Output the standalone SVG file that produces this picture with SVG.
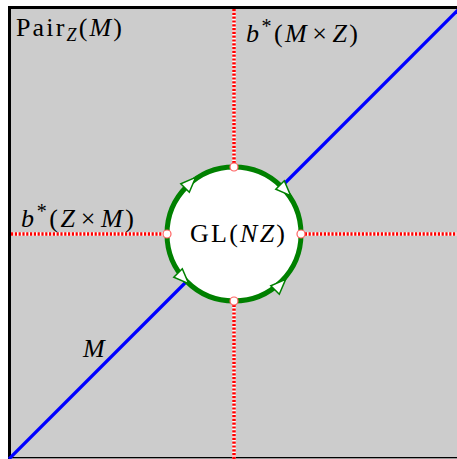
<svg xmlns="http://www.w3.org/2000/svg" width="457" height="459" viewBox="0 0 457 459">
<style>
.txt{font-family:"Liberation Serif","DejaVu Serif",serif;font-size:26px;fill:#000}
.it{font-style:italic}
.blue{stroke:#0000ff;stroke-width:3.2;fill:none}
.redbase{stroke:#ffffff;stroke-width:3.5;fill:none}
.red{stroke:#ff0000;stroke-width:3.5;stroke-dasharray:2.2 1.6;fill:none}
.port{fill:#ffffff;stroke:#ff6060;stroke-width:1.2}
.arr{fill:#ffffff;stroke:#008000;stroke-width:1.5;stroke-linejoin:miter}
</style>
<defs>
<path id="tri" d="M8,0 L-7,-6 L-7,6 Z"/>
</defs>
<rect x="0" y="0" width="457" height="459" fill="#ffffff"/>
<rect x="9.5" y="7.5" width="460" height="451" fill="#cccccc" stroke="#000000" stroke-width="3"/>
<line x1="11" y1="458.5" x2="457" y2="458.5" stroke="#999999" stroke-width="1"/>
<g id="connectors">
<line class="blue" x1="9" y1="459" x2="187" y2="281"/>
<line class="blue" x1="281" y1="187" x2="458" y2="10"/>
<line class="redbase" x1="234" y1="9" x2="234" y2="167"/>
<line class="red" x1="234" y1="9" x2="234" y2="167"/>
<line class="redbase" x1="234" y1="301" x2="234" y2="459"/>
<line class="red" x1="234" y1="301" x2="234" y2="459"/>
<line class="redbase" x1="11" y1="234" x2="167" y2="234"/>
<line class="red" x1="11" y1="234" x2="167" y2="234"/>
<line class="redbase" x1="301" y1="234" x2="457" y2="234"/>
<line class="red" x1="301" y1="234" x2="457" y2="234"/>
</g>
<g id="GL">
<circle cx="234" cy="234" r="67" fill="#ffffff" stroke="#008000" stroke-width="5"/>
<use href="#tri" class="arr" transform="translate(190,183) rotate(-45)"/>
<use href="#tri" class="arr" transform="translate(285,190) rotate(45)"/>
<use href="#tri" class="arr" transform="translate(183,278) rotate(45)"/>
<use href="#tri" class="arr" transform="translate(280,285) rotate(-45)"/>
<circle class="port" cx="234" cy="167" r="4"/>
<circle class="port" cx="234" cy="301" r="4"/>
<circle class="port" cx="167" cy="234" r="4"/>
<circle class="port" cx="301" cy="234" r="4"/>
<text class="txt" x="190" y="242" textLength="95" lengthAdjust="spacing">GL(<tspan class="it">N</tspan><tspan class="it">Z</tspan>)</text>
</g>
<g id="labels">
<text class="txt" x="16" y="36" textLength="106" lengthAdjust="spacing">Pair<tspan class="it" font-size="18" dy="5">Z</tspan><tspan dy="-5">(</tspan><tspan class="it">M</tspan>)</text>
<text class="txt" x="246" y="42" textLength="112" lengthAdjust="spacing"><tspan class="it">b</tspan><tspan font-size="20" dy="-9">*</tspan><tspan dy="9">(</tspan><tspan class="it">M</tspan><tspan dx="3">×</tspan><tspan class="it" dx="3">Z</tspan>)</text>
<text class="txt" x="21" y="227" textLength="113" lengthAdjust="spacing"><tspan class="it">b</tspan><tspan font-size="20" dy="-9">*</tspan><tspan dy="9">(</tspan><tspan class="it">Z</tspan><tspan dx="3">×</tspan><tspan class="it" dx="3">M</tspan>)</text>
<text class="txt it" x="83" y="357">M</text>
</g>
</svg>
